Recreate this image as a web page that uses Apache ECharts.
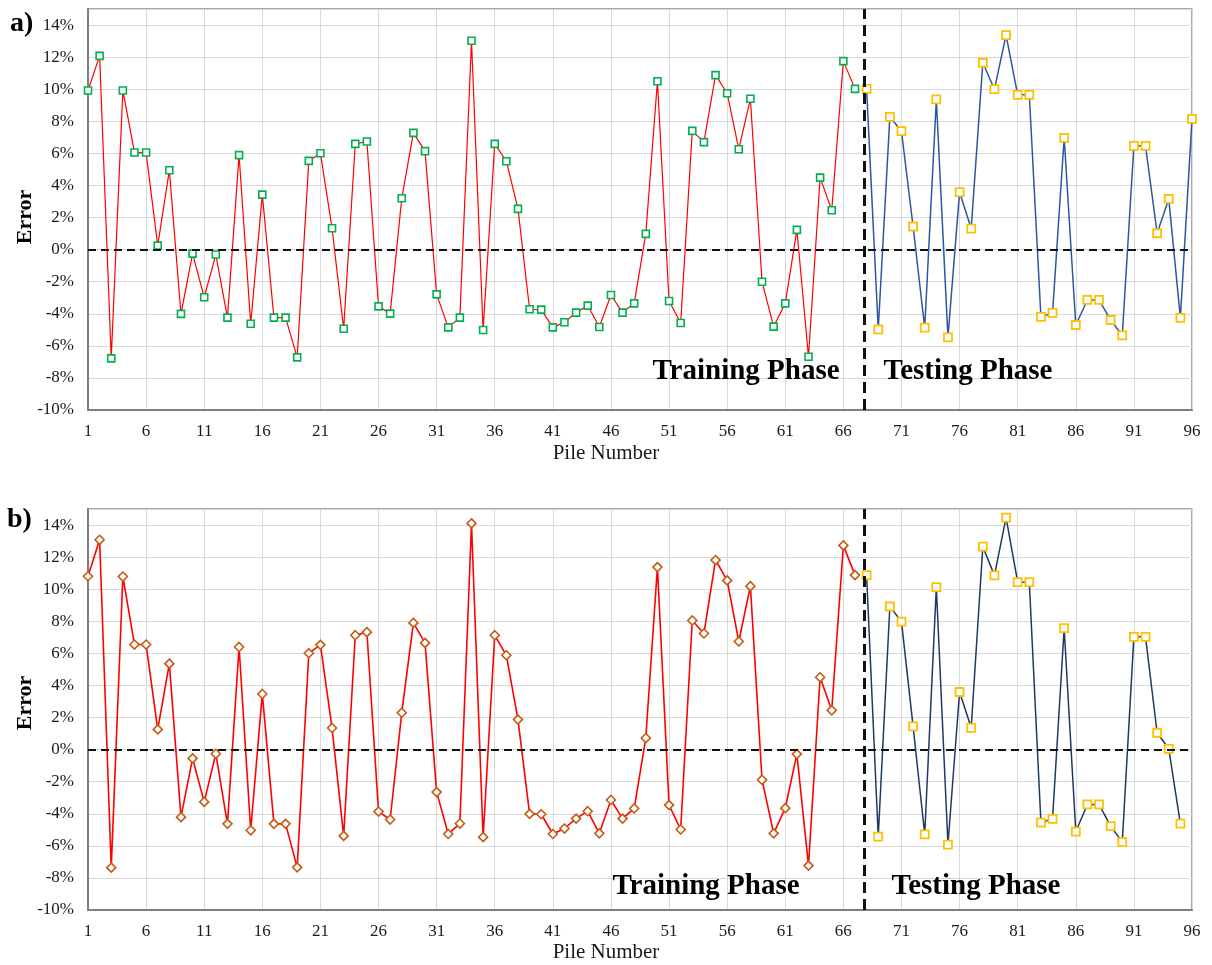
<!DOCTYPE html>
<html>
<head>
<meta charset="utf-8">
<script src="https://cdn.jsdelivr.net/npm/echarts@6/dist/echarts.min.js"></script>
<style>
html,body{margin:0;padding:0;background:#fff;}
#chart{width:1212px;height:965px;}
</style>
</head>
<body>
<div id="chart"></div>
<script>
// Error (%) per pile
const firstTestPile = 68;
const boundaryPile = 67.8;
const xTickLabels = ['1','6','11','16','21','26','31','36','41','46','51','56','61','66','71','76','81','86','91','96'];
const yTickLabels = ['-10%','-8%','-6%','-4%','-2%','0%','2%','4%','6%','8%','10%','12%','14%'];

const errATrain = [9.92,12.08,-6.78,9.92,6.05,6.05,0.25,4.95,-4.01,-0.25,-2.97,-0.31,-4.24,5.89,-4.62,3.43,-4.24,-4.24,-6.72,
  5.53,6.01,1.33,-4.93,6.59,6.74,-3.54,-3.99,3.20,7.28,6.14,-2.79,-4.85,-4.24,13.02,-5.01,6.59,5.51,2.54,-3.72,-3.74,-4.85,-4.53,-3.93,
  -3.49,-4.83,-2.83,-3.93,-3.35,0.98,10.50,-3.20,-4.58,7.40,6.70,10.88,9.75,6.26,9.40,-2.00,-4.80,-3.35,1.23,-6.68,4.49,2.45,11.75,10.02];
const errATest = [10.02,-4.97,8.28,7.38,1.44,-4.87,9.36,-5.47,3.58,1.31,11.65,10.00,13.37,9.65,9.65,-4.20,-3.95,6.97,-4.70,-3.14,-3.14,-4.39,-5.35,6.47,6.47,1.02,3.16,-4.26,8.15];

const errBTrain = [10.81,13.08,-7.36,10.79,6.55,6.55,1.26,5.36,-4.21,-0.55,-3.26,-0.26,-4.63,6.40,-5.03,3.47,-4.63,-4.63,-7.34,
  6.01,6.53,1.35,-5.38,7.13,7.32,-3.86,-4.36,2.30,7.90,6.65,-2.65,-5.26,-4.61,14.10,-5.46,7.13,5.88,1.87,-4.01,-4.03,-5.26,-4.92,-4.30,
  -3.84,-5.22,-3.14,-4.30,-3.67,0.72,11.38,-3.46,-4.98,8.05,7.24,11.82,10.55,6.74,10.19,-1.88,-5.22,-3.65,-0.28,-7.23,4.51,2.45,12.73,10.88];
const errBTest = [10.88,-5.42,8.92,7.98,1.45,-5.28,10.13,-5.92,3.59,1.36,12.65,10.86,14.46,10.44,10.44,-4.55,-4.32,7.57,-5.11,-3.42,-3.42,-4.77,-5.77,7.03,7.03,1.05,0.05,-4.61];

// x axis runs on (pile - 1) so that ticks start at 0 with interval 5
const trainPts = arr => arr.map((v, i) => [i, v]);
const testPts = arr => arr.map((v, i) => [firstTestPile - 1 + i, v]);

const FONT = '"Liberation Serif", "Times New Roman", serif';
const chart = echarts.init(document.getElementById('chart'), null, {renderer: 'canvas'});

function xAxis(gi) {
  return {
    type: 'value', gridIndex: gi, min: 0, max: 95, interval: 5,
    axisLine: {show: true, onZero: false, lineStyle: {color: '#7f7f7f', width: 2}},
    axisTick: {show: false},
    axisLabel: {
      margin: 13, color: '#1a1a1a', fontFamily: FONT, fontSize: 17,
      formatter: v => { const s = String(Math.round(v) + 1); return xTickLabels.indexOf(s) >= 0 ? s : ''; }
    },
    splitLine: {show: true, lineStyle: {color: '#d9d9d9', width: 1}}
  };
}
function yAxis(gi) {
  return {
    type: 'value', gridIndex: gi, min: -10, max: 15, interval: 2,
    axisLine: {show: true, lineStyle: {color: '#7f7f7f', width: 2}},
    axisTick: {show: false},
    axisLabel: {
      margin: 14, color: '#1a1a1a', fontFamily: FONT, fontSize: 17,
      formatter: v => { const s = Math.round(v) + '%'; return yTickLabels.indexOf(s) >= 0 ? s : ''; }
    },
    splitLine: {show: true, lineStyle: {color: '#d9d9d9', width: 1}}
  };
}
function refLines() {
  return {
    silent: true, symbol: 'none', label: {show: false},
    data: [
      {yAxis: 0, lineStyle: {color: '#111', width: 2, type: [8, 5]}},
      {xAxis: boundaryPile - 1, lineStyle: {color: '#111', width: 3, type: [11, 6]}}
    ]
  };
}

const option = {
  animation: false,
  backgroundColor: '#fff',
  grid: [
    {left: 88, right: 20, top: 9, height: 401, show: true, borderColor: '#8c8c8c', borderWidth: 1.5},
    {left: 88, right: 20, top: 509, height: 401, show: true, borderColor: '#8c8c8c', borderWidth: 1.5}
  ],
  xAxis: [xAxis(0), xAxis(1)],
  yAxis: [yAxis(0), yAxis(1)],
  series: [
    {
      type: 'line', xAxisIndex: 0, yAxisIndex: 0, data: trainPts(errATrain),
      lineStyle: {color: '#ff0000', width: 1.2}, symbol: 'rect', symbolSize: 7, showAllSymbol: true,
      itemStyle: {color: '#fff', borderColor: '#00b050', borderWidth: 1.6},
      markLine: refLines(), z: 3
    },
    {
      type: 'line', xAxisIndex: 0, yAxisIndex: 0, data: testPts(errATest),
      lineStyle: {color: '#2f55a0', width: 1.5}, symbol: 'rect', symbolSize: 8, showAllSymbol: true,
      itemStyle: {color: '#fff', borderColor: '#ffc000', borderWidth: 1.8}, z: 3
    },
    {
      type: 'line', xAxisIndex: 1, yAxisIndex: 1, data: trainPts(errBTrain),
      lineStyle: {color: '#ff0000', width: 1.6}, symbol: 'diamond', symbolSize: 9, showAllSymbol: true,
      itemStyle: {color: '#fff', borderColor: '#c55a11', borderWidth: 1.6},
      markLine: refLines(), z: 3
    },
    {
      type: 'line', xAxisIndex: 1, yAxisIndex: 1, data: testPts(errBTest),
      lineStyle: {color: '#1f3864', width: 1.5}, symbol: 'rect', symbolSize: 8, showAllSymbol: true,
      itemStyle: {color: '#fff', borderColor: '#ffc000', borderWidth: 1.8}, z: 3
    }
  ],
  graphic: [
    {type: 'text', left: 10, top: 10, style: {text: 'a)', font: 'bold 28px ' + FONT, fill: '#000'}},
    {type: 'text', left: 7, top: 506, style: {text: 'b)', font: 'bold 28px ' + FONT, fill: '#000'}},
    {type: 'text', x: 25, y: 217, rotation: Math.PI / 2, style: {text: 'Error', font: 'bold 22px ' + FONT, fill: '#000', align: 'center', verticalAlign: 'middle'}},
    {type: 'text', x: 25, y: 703, rotation: Math.PI / 2, style: {text: 'Error', font: 'bold 22px ' + FONT, fill: '#000', align: 'center', verticalAlign: 'middle'}},
    {type: 'text', x: 606, y: 453, style: {text: 'Pile Number', font: '21px ' + FONT, fill: '#1a1a1a', align: 'center', verticalAlign: 'middle'}},
    {type: 'text', x: 606, y: 952, style: {text: 'Pile Number', font: '21px ' + FONT, fill: '#1a1a1a', align: 'center', verticalAlign: 'middle'}},
    {type: 'text', x: 746, y: 372, z: 10, style: {text: 'Training Phase', font: 'bold 29px ' + FONT, fill: '#000', align: 'center', verticalAlign: 'middle'}},
    {type: 'text', x: 968, y: 372, z: 10, style: {text: 'Testing Phase', font: 'bold 29px ' + FONT, fill: '#000', align: 'center', verticalAlign: 'middle'}},
    {type: 'text', x: 706, y: 887, z: 10, style: {text: 'Training Phase', font: 'bold 29px ' + FONT, fill: '#000', align: 'center', verticalAlign: 'middle'}},
    {type: 'text', x: 976, y: 887, z: 10, style: {text: 'Testing Phase', font: 'bold 29px ' + FONT, fill: '#000', align: 'center', verticalAlign: 'middle'}}
  ]
};
chart.setOption(option);
</script>
</body>
</html>
